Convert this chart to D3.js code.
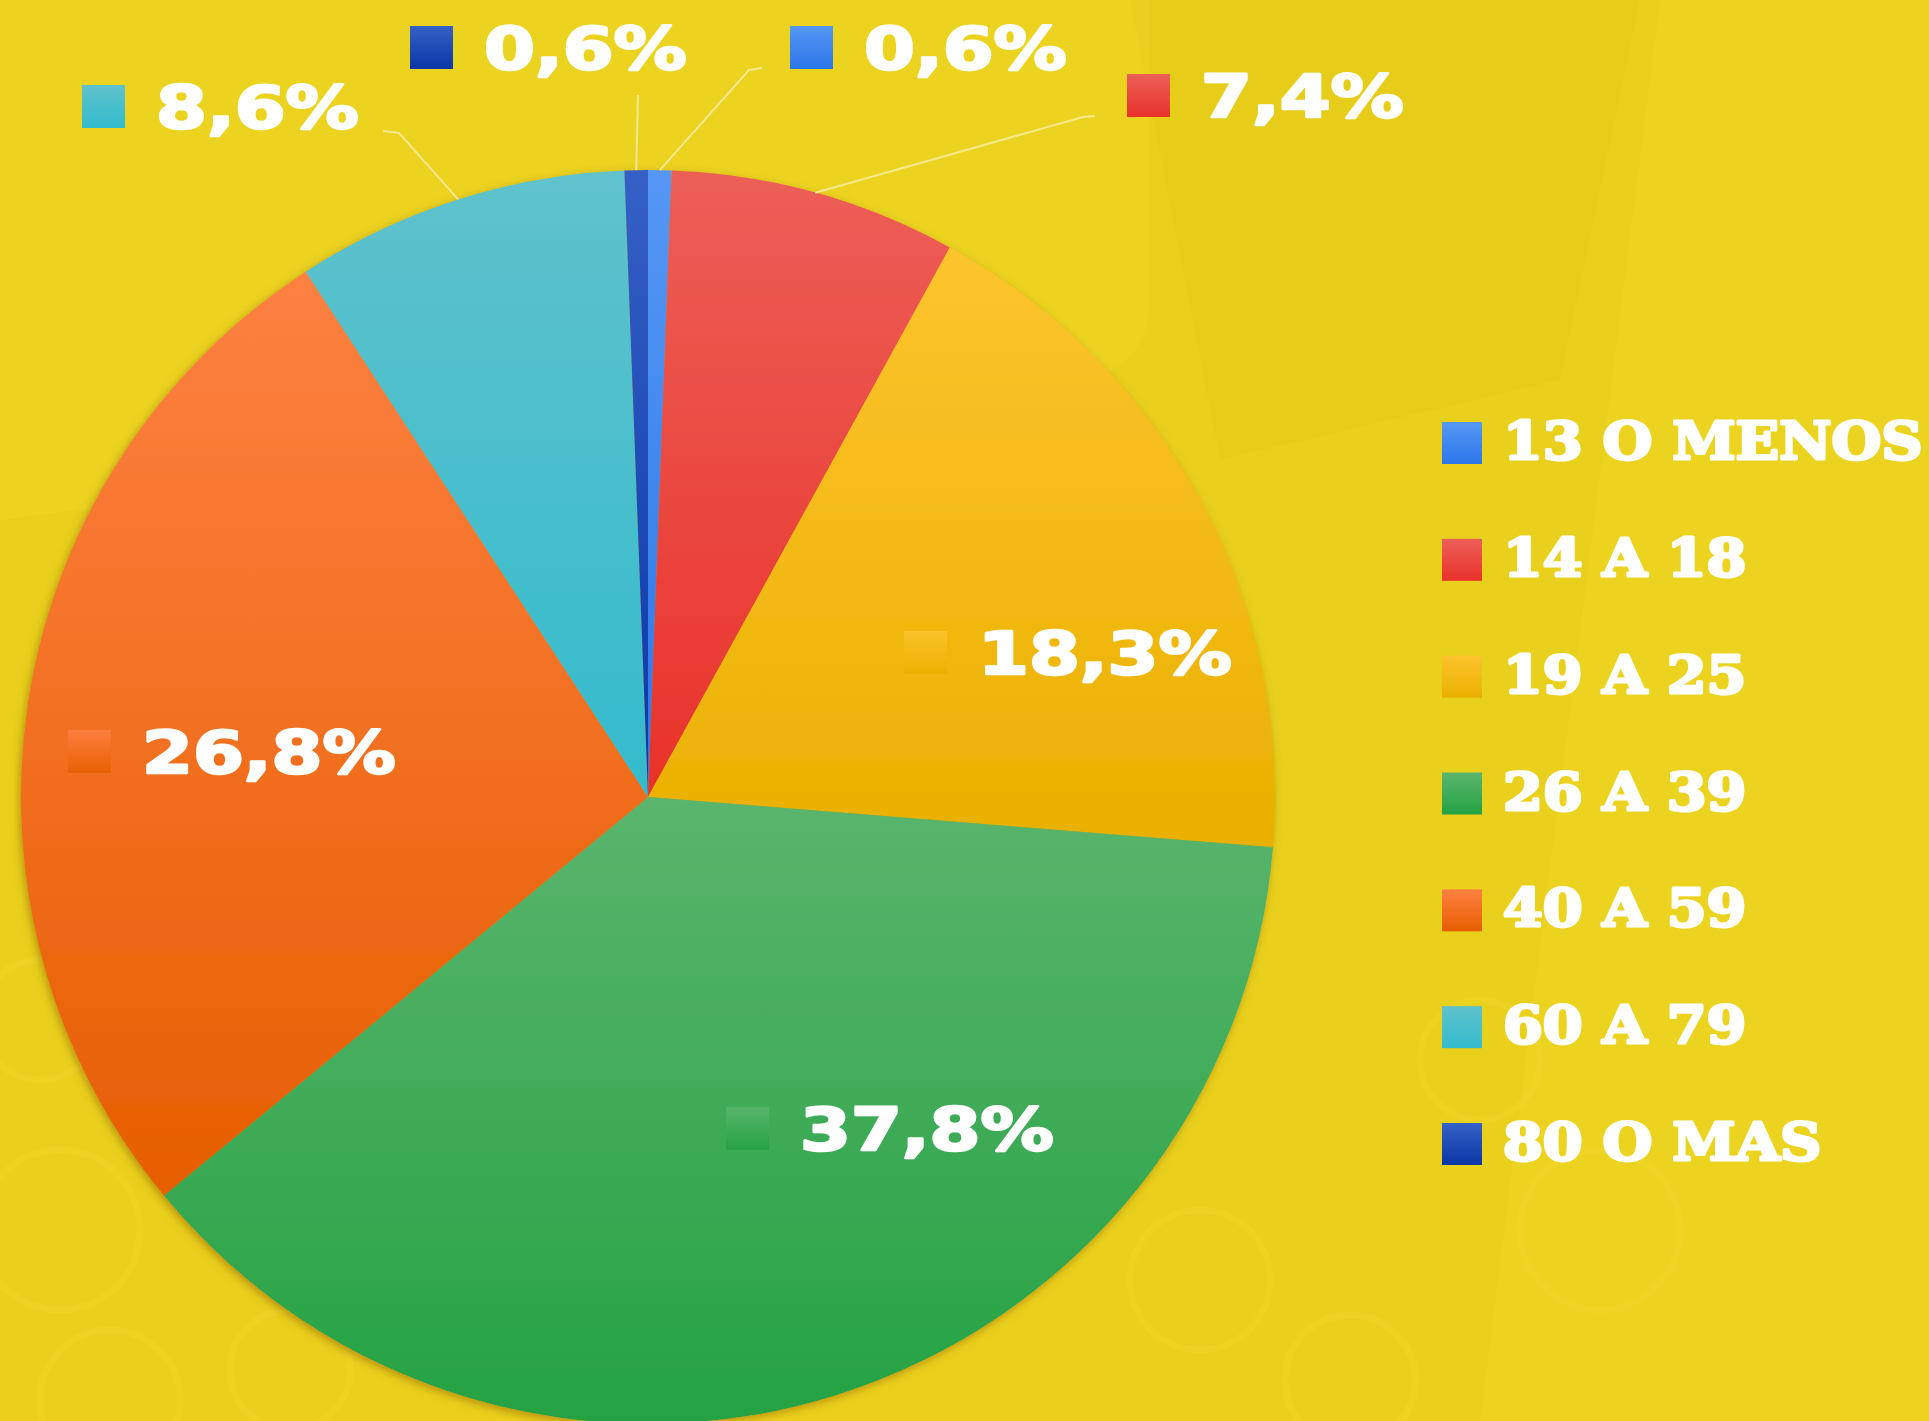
<!DOCTYPE html>
<html>
<head>
<meta charset="utf-8">
<title>Edades</title>
<script src="https://cdn.jsdelivr.net/npm/d3@7"></script>
<style>
    html, body { margin: 0; padding: 0; background: #e9d01c; overflow: hidden; }
    svg { display: block; }
    .pct { font-family: "DejaVu Sans"; font-weight: bold; fill: #fff; font-size: 59px;
        stroke: #fff; stroke-width: 2.5; stroke-linejoin: round; }
    .leg { font-family: "DejaVu Serif"; font-weight: bold; fill: #fff; font-size: 52px;
        stroke: #fff; stroke-width: 3; stroke-linejoin: round; }
</style>
</head>
<body>
<script>
    // datos
    var categorias = ["13 O MENOS", "14 A 18", "19 A 25", "26 A 39", "40 A 59", "60 A 79", "80 O MAS"];
    var porcentajes = [0.6, 7.4, 18.3, 37.8, 26.8, 8.6, 0.6];
    var colorClaro = ["#5597f4", "#ec5f57", "#fdc42e", "#5ab56d", "#fe8142", "#5fc2cc", "#3560c6"];
    var colorOscuro = ["#2c76ea", "#e9322a", "#e9b000", "#24a243", "#e65e00", "#33bbcd", "#0a37a6"];

    var width = 1929, height = 1421;
    var cx = 648, cy = 797, R = 627;

    var svg = d3.select("body").append("svg")
        .attr("width", width)
        .attr("height", height);

    var defs = svg.append("defs");

    // fondo
    svg.append("rect").attr("width", width).attr("height", height).attr("fill", "#e9d01c");
    svg.append("path")
        .attr("d", "M0,0 L1150,0 L1150,300 Q1150,360 1090,380 L0,520 Z")
        .attr("fill", "#f3da2a").attr("opacity", 0.3);
    svg.append("path")
        .attr("d", "M1660,0 L1929,0 L1929,1421 L1480,1421 Z")
        .attr("fill", "#f3da2a").attr("opacity", 0.25);
    svg.append("path")
        .attr("d", "M1130,0 L1640,0 L1560,380 L1220,460 Z")
        .attr("fill", "#ddc010").attr("opacity", 0.12);
    var circulos = [[60, 1230, 80], [110, 1400, 70], [290, 1370, 60], [1200, 1280, 70], [1350, 1380, 65],
        [1600, 1230, 80], [1480, 1060, 60], [40, 1020, 60]];
    svg.selectAll(".deco").data(circulos).enter().append("circle")
        .attr("class", "deco")
        .attr("cx", d => d[0]).attr("cy", d => d[1]).attr("r", d => d[2])
        .attr("fill", "none").attr("stroke", "#f4dc32").attr("stroke-width", 7).attr("opacity", 0.3);

    // gradientes por porción
    categorias.forEach(function (c, i) {
        var g = defs.append("linearGradient").attr("id", "grad" + i)
            .attr("x1", 0).attr("y1", 0).attr("x2", 0).attr("y2", 1);
        g.append("stop").attr("offset", "0%").attr("stop-color", colorClaro[i]);
        g.append("stop").attr("offset", "100%").attr("stop-color", colorOscuro[i]);
    });

    var sombra = defs.append("filter").attr("id", "sombra")
        .attr("x", "-10%").attr("y", "-10%").attr("width", "120%").attr("height", "120%");
    sombra.append("feDropShadow").attr("dx", -2).attr("dy", 3).attr("stdDeviation", 4)
        .attr("flood-color", "#8a5200").attr("flood-opacity", 0.5);

    var pie = d3.pie().sort(null).value(d => d);
    var arcs = pie(porcentajes);
    var arc = d3.arc().innerRadius(0).outerRadius(R);
    var borde = d3.arc().innerRadius(R).outerRadius(R);

    var gPie = svg.append("g")
        .attr("transform", "translate(" + cx + "," + cy + ")")
        .attr("filter", "url(#sombra)");

    gPie.selectAll("path").data(arcs).enter().append("path")
        .attr("d", arc)
        .attr("fill", (d, i) => "url(#grad" + i + ")");

    // posiciones de etiquetas (esquina del cuadro y línea base, relativo al centro)
    var etiquetaPos = [
        { x: 142, y: -728, linea: [[101, -727], [114, -729]] },
        { x: 479, y: -680, linea: [[435, -680], [447, -681]] },
        { x: 256, y: -123 },
        { x: 78, y: 353 },
        { x: -580, y: -24 },
        { x: -566, y: -669, linea: [[-249, -664], [-265, -666]] },
        { x: -238, y: -728, linea: [[-10, -702], [-10, -702]] }
    ];

    var fmt = d => d3.format(".1f")(d).replace(".", ",") + "%";
    var gLab = svg.append("g").attr("transform", "translate(" + cx + "," + cy + ")");

    // líneas guía
    arcs.forEach(function (a, i) {
        var p = etiquetaPos[i];
        if (!p.linea) return;
        var inicio = borde.centroid(a);
        gLab.append("polyline")
            .attr("points", [inicio].concat(p.linea).map(q => q.join(",")).join(" "))
            .attr("fill", "none")
            .attr("stroke", "#f6e88c")
            .attr("stroke-width", 2);
    });

    var sq = 43;
    arcs.forEach(function (a, i) {
        var p = etiquetaPos[i];
        gLab.append("rect")
            .attr("x", p.x).attr("y", p.y - sq)
            .attr("width", sq).attr("height", sq)
            .attr("fill", "url(#grad" + i + ")")
            .attr("opacity", p.linea ? 1 : 0.85);
        var t = gLab.append("text")
            .attr("class", "pct")
            .attr("x", p.x + 74).attr("y", p.y)
            .text(fmt(porcentajes[i]));
        var len = t.node().getComputedTextLength();
        t.attr("textLength", len * 1.24).attr("lengthAdjust", "spacingAndGlyphs");
    });

    // leyenda
    var yLeg = d3.scalePoint().domain(categorias).range([443, 1144]);
    var leg = svg.append("g").selectAll("g").data(categorias).enter().append("g")
        .attr("transform", d => "translate(1442," + yLeg(d) + ")");
    leg.append("rect")
        .attr("x", 0).attr("y", -21).attr("width", 40).attr("height", 42)
        .attr("fill", (d, i) => "url(#grad" + i + ")");
    leg.append("text")
        .attr("class", "leg")
        .attr("x", 61).attr("y", 16)
        .text(d => d)
        .each(function () {
            var len = this.getComputedTextLength();
            d3.select(this).attr("textLength", len * 1.1).attr("lengthAdjust", "spacingAndGlyphs");
        });
</script>
</body>
</html>
